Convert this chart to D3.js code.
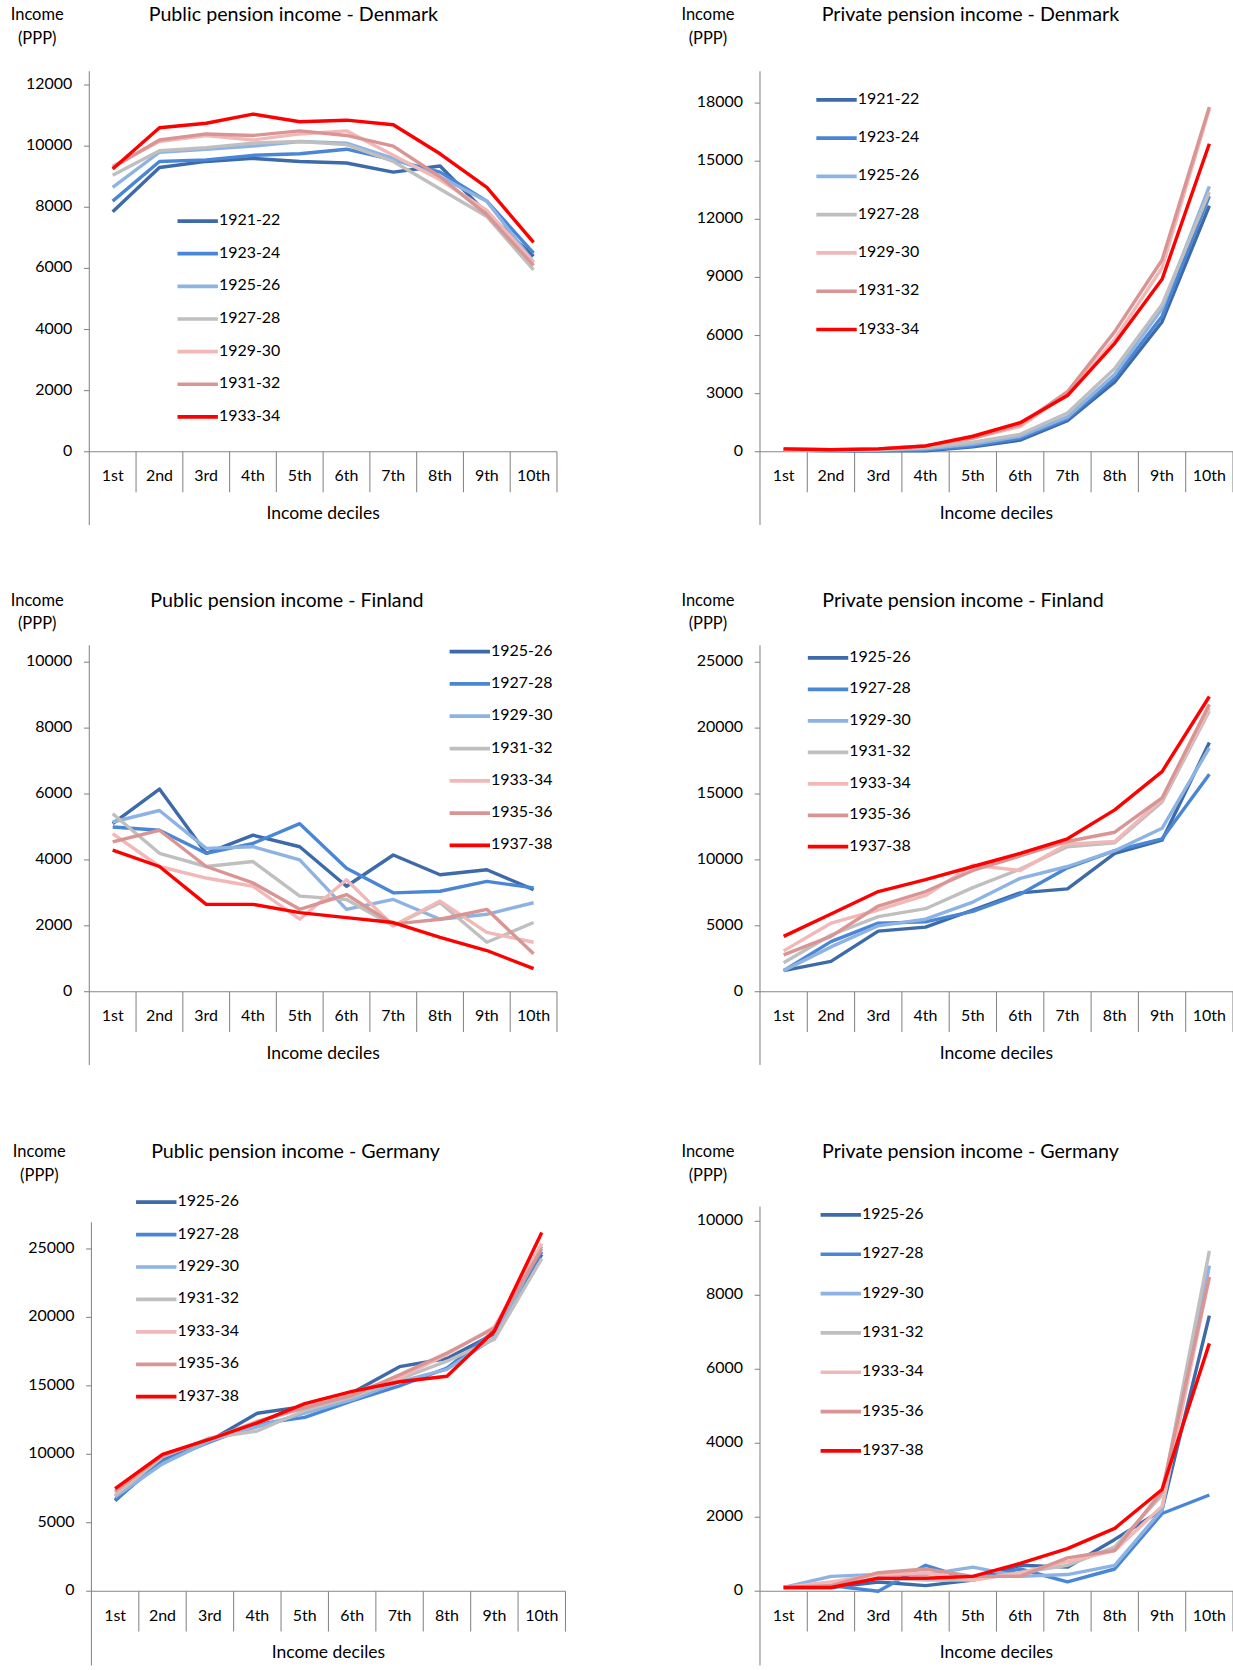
<!DOCTYPE html>
<html><head><meta charset="utf-8">
<script src="https://cdn.jsdelivr.net/npm/d3@7"></script>
<style>
body{margin:0;background:#fff;}
text{font-family:Lato,"Noto Sans",sans-serif;fill:#000;}
</style></head>
<body><div id="container"></div>
<script>
var deciles = ["1st","2nd","3rd","4th","5th","6th","7th","8th","9th","10th"];
var colors = ["#3d6aa8","#4a86d6","#8db3e2","#bfbfbf","#f2b8b8","#d99594","#ff0000"];

var yearsDK = ["1921-22","1923-24","1925-26","1927-28","1929-30","1931-32","1933-34"];
var yearsFG = ["1925-26","1927-28","1929-30","1931-32","1933-34","1935-36","1937-38"];

var pubDK = [
  [7850,9300,9500,9600,9500,9450,9150,9350,7800,6400],
  [8200,9500,9550,9700,9750,9900,9550,9150,8200,6500],
  [8650,9800,9900,10000,10150,10100,9600,9000,8200,6200],
  [9050,9850,9950,10100,10150,10050,9500,8600,7700,5950],
  [9350,10150,10350,10200,10400,10500,9700,8900,7900,6200],
  [9300,10200,10400,10350,10500,10350,10000,9000,7750,6100],
  [9250,10600,10750,11050,10800,10850,10700,9750,8650,6850]
];
var privDK = [
  [100,50,50,50,250,600,1600,3600,6700,12700],
  [100,50,50,100,300,700,1700,3800,7000,13200],
  [100,50,100,150,400,800,1800,4000,7400,13700],
  [100,50,100,200,500,900,2000,4300,7600,13400],
  [150,100,150,300,700,1300,3000,5800,9500,17700],
  [150,100,150,300,700,1400,3100,6200,9900,17800],
  [150,100,150,300,800,1500,2900,5600,8900,15900]
];
var pubFI = [
  [5100,6150,4200,4750,4400,3200,4150,3550,3700,3100],
  [5000,4900,4200,4500,5100,3750,3000,3050,3350,3150],
  [5150,5500,4350,4400,4000,2500,2800,2200,2350,2700],
  [5400,4200,3800,3950,2900,2800,2000,2700,1500,2100],
  [4800,3800,3450,3200,2200,3400,2000,2750,1800,1500],
  [4550,4900,3800,3300,2500,2950,2050,2200,2500,1150],
  [4300,3800,2650,2650,2400,2250,2100,1650,1250,700]
];
var privFI = [
  [1600,2300,4600,4900,6200,7500,7800,10500,11500,18900],
  [1600,3800,5200,5300,6100,7400,9400,10700,11600,16500],
  [1600,3400,5000,5500,6800,8600,9500,10700,12400,18500],
  [2200,4300,5700,6300,7900,9300,11000,11300,14400,21300],
  [3100,5200,6200,7300,9600,9200,11200,11400,14600,21500],
  [2800,4200,6500,7600,9200,10300,11400,12100,14700,21800],
  [4200,5900,7600,8500,9500,10500,11600,13800,16700,22400]
];
var pubDE = [
  [6600,9700,11000,13000,13500,14500,16400,17000,18800,24600],
  [6700,9500,10900,12200,12700,13900,15000,16300,19000,24800],
  [6900,9300,11000,12000,13000,14000,15300,16200,18500,25200],
  [7000,9800,11200,11700,13200,14200,15500,16800,18400,24300],
  [7200,9900,11100,12300,13500,14500,15600,17300,19300,25400],
  [7300,9900,11100,12400,13400,14300,15800,17400,19200,25000],
  [7500,10000,11100,12300,13700,14600,15300,15700,19000,26200]
];
var privDE = [
  [100,100,250,150,300,700,650,1400,2200,7450],
  [100,150,0,700,300,600,250,600,2100,2600],
  [100,400,450,450,650,400,450,700,2200,8800],
  [100,150,350,300,300,500,700,1200,2600,9200],
  [100,250,450,500,300,500,800,1100,2300,8500],
  [100,150,500,600,400,400,900,1100,2700,8500],
  [100,100,350,350,400,750,1150,1700,2750,6700]
];

var panels = [
  {title:"Public pension income - Denmark", data:pubDK, years:yearsDK, max:12000, step:2000,
   x0:84, x1:524, yTop:67, y0:425, yMax:80, tx:276, ty:15, lx:167, ly:208, ls:30.7, bottom:494},
  {title:"Private pension income - Denmark", data:privDK, years:yearsDK, max:18000, step:3000,
   x0:715, x1:1160, yTop:67, y0:425, yMax:97, tx:913, ty:15, lx:768, ly:94, ls:36, bottom:494},
  {title:"Public pension income - Finland", data:pubFI, years:yearsFG, max:10000, step:2000,
   x0:84, x1:524, yTop:607, y0:933, yMax:623, tx:270, ty:566, lx:423, ly:613, ls:30.4, bottom:1002},
  {title:"Private pension income - Finland", data:privFI, years:yearsFG, max:25000, step:5000,
   x0:715, x1:1160, yTop:607, y0:933, yMax:623, tx:906, ty:566, lx:760, ly:619, ls:29.6, bottom:1002},
  {title:"Public pension income - Germany", data:pubDE, years:yearsFG, max:25000, step:5000,
   x0:86, x1:532, yTop:1150, y0:1497, yMax:1175, tx:278, ty:1085, lx:128, ly:1131, ls:30.5, bottom:1567},
  {title:"Private pension income - Germany", data:privDE, years:yearsFG, max:10000, step:2000,
   x0:715, x1:1160, yTop:1135, y0:1497, yMax:1149, tx:913, ty:1085, lx:772, ly:1143, ls:37, bottom:1567}
];

var svg = d3.select("#container").append("svg")
  .attr("width", 1233).attr("height", 1670);
// layout measured on a 1160-wide copy, scale up to page size
var root = svg.append("g").attr("transform", "scale(" + (1233 / 1160) + ")");

panels.forEach(function(p) {
  var g = root.append("g");
  var x = d3.scaleBand().domain(deciles).range([p.x0, p.x1]);
  var y = d3.scaleLinear().domain([0, p.max]).range([p.y0, p.yMax]);

  g.append("text").attr("x", p.tx).attr("y", p.ty).attr("text-anchor", "middle")
    .attr("dominant-baseline", "middle").style("font-size", "18.5px").text(p.title);
  var ix = p.x0 - 49;
  g.append("text").attr("x", ix).attr("y", p.ty).attr("text-anchor", "middle")
    .attr("dominant-baseline", "middle").style("font-size", "15.5px").text("Income");
  g.append("text").attr("x", ix).attr("y", p.ty + 22).attr("text-anchor", "middle")
    .attr("dominant-baseline", "middle").style("font-size", "15.5px").text("(PPP)");

  // axis lines
  g.append("line").attr("x1", p.x0).attr("x2", p.x0).attr("y1", p.yTop).attr("y2", p.bottom)
    .attr("stroke", "#868686");
  g.append("line").attr("x1", p.x0).attr("x2", p.x1).attr("y1", p.y0).attr("y2", p.y0)
    .attr("stroke", "#868686");
  g.selectAll(".sep").data(deciles).enter().append("line")
    .attr("x1", function(d, i) { return p.x0 + x.step() * (i + 1); })
    .attr("x2", function(d, i) { return p.x0 + x.step() * (i + 1); })
    .attr("y1", p.y0).attr("y2", p.y0 + 38).attr("stroke", "#868686");

  var ticks = d3.range(0, p.max + 1, p.step);
  g.selectAll(".yt").data(ticks).enter().append("line")
    .attr("x1", p.x0 - 5).attr("x2", p.x0)
    .attr("y1", function(d) { return y(d); }).attr("y2", function(d) { return y(d); })
    .attr("stroke", "#868686");
  g.selectAll(".yl").data(ticks).enter().append("text")
    .attr("x", p.x0 - 16).attr("y", function(d) { return y(d); })
    .attr("text-anchor", "end").attr("dominant-baseline", "middle")
    .style("font-size", "15px").text(function(d) { return d; });
  g.selectAll(".xl").data(deciles).enter().append("text")
    .attr("x", function(d) { return x(d) + x.bandwidth() / 2; }).attr("y", p.y0 + 24)
    .attr("text-anchor", "middle").attr("dominant-baseline", "middle")
    .style("font-size", "15px").text(function(d) { return d; });
  g.append("text").attr("x", (p.x0 + p.x1) / 2).attr("y", p.y0 + 59)
    .attr("text-anchor", "middle").attr("dominant-baseline", "middle")
    .style("font-size", "16.5px").text("Income deciles");

  var line = d3.line()
    .x(function(d, i) { return x(deciles[i]) + x.bandwidth() / 2; })
    .y(function(d) { return y(d); });
  g.selectAll(".series").data(p.data).enter().append("path")
    .attr("d", line).attr("fill", "none")
    .attr("stroke", function(d, i) { return colors[i]; })
    .attr("stroke-width", 3.2).attr("stroke-linejoin", "round");

  var leg = g.selectAll(".leg").data(p.years).enter().append("g")
    .attr("transform", function(d, i) { return "translate(" + p.lx + "," + (p.ly + i * p.ls) + ")"; });
  leg.append("line").attr("x1", 0).attr("x2", 38)
    .attr("stroke", function(d, i) { return colors[i]; }).attr("stroke-width", 3.5);
  leg.append("text").attr("x", 39).attr("dominant-baseline", "middle")
    .style("font-size", "15px").text(function(d) { return d; });
});
</script>
</body></html>
